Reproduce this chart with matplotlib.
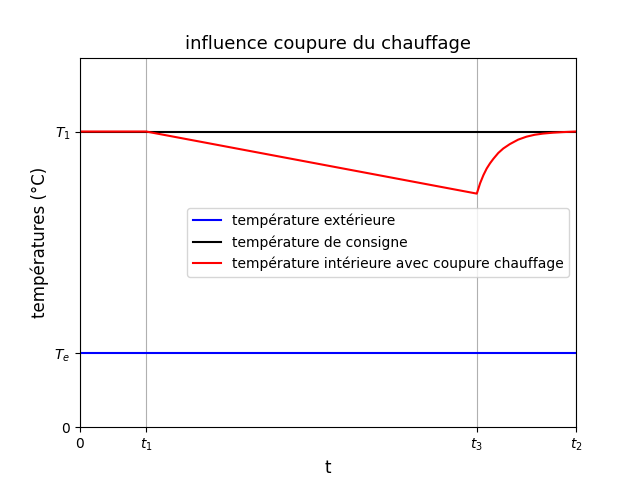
import matplotlib
matplotlib.use("Agg")
import matplotlib.pyplot as plt

t1, t3, t2 = 2, 12, 15
T1, Te = 20, 5

t_ext = [0, t2]
T_ext = [Te, Te]
t_cons = [0, t2]
T_cons = [T1, T1]
t_int = [0, t1, t3, 12.1, 12.2, 12.3, 12.4, 12.5, 12.65, 12.8, 13.0, 13.25,
         13.5, 13.75, 14.0, 14.3, 14.6, 15.0]
T_int = [T1, T1, 15.8, 16.5, 17.05, 17.5, 17.85, 18.15, 18.55, 18.85, 19.15, 19.45,
         19.65, 19.78, 19.86, 19.92, 19.96, 20.0]

fig, ax = plt.subplots(figsize=(6.4, 4.8), dpi=100)
ax.plot(t_ext, T_ext, color="blue", label="température extérieure")
ax.plot(t_cons, T_cons, color="black", label="température de consigne")
ax.plot(t_int, T_int, color="red", label="température intérieure avec coupure chauffage")
ax.set_xlim(0, t2)
ax.set_ylim(0, 25)
ax.set_xticks([0, t1, t3, t2])
ax.set_xticklabels(["0", "$t_1$", "$t_3$", "$t_2$"])
ax.set_yticks([0, Te, T1])
ax.set_yticklabels(["0", "$T_e$", "$T_1$"])
ax.grid(axis="x")
ax.set_xlabel("t", fontsize=12)
ax.set_ylabel("températures (°C)", fontsize=12)
ax.set_title("influence coupure du chauffage", fontsize=13)
ax.legend(loc="center right")
plt.savefig("out.png")
